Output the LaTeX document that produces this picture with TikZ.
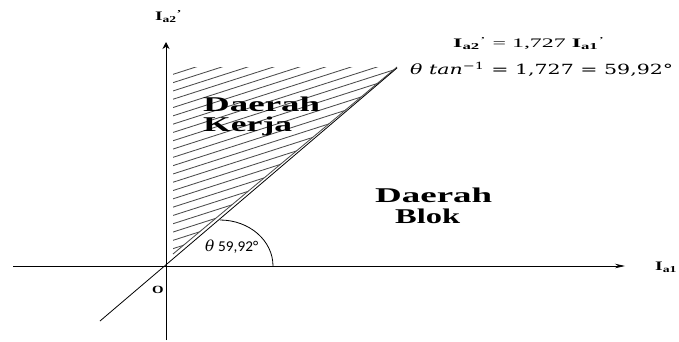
\documentclass[tikz,border=0pt]{standalone}
\usepackage{fontspec}
\setmainfont{Liberation Serif}
\newfontfamily\calib{Carlito}
\newfontfamily\cambr{DejaVu Serif}
\usetikzlibrary{arrows.meta}
\begin{document}
\begin{tikzpicture}[x=1pt,y=-1pt,
  axis/.style={line width=0.8pt},
  hatchline/.style={draw=black!70,line width=0.85pt},
  lbl/.style={inner sep=0pt,anchor=base west}]
\useasboundingbox (0,0) rectangle (679,341);
% key points
\coordinate (O) at (166,266);
\coordinate (ytop) at (166,42);
\coordinate (ybot) at (166,340);
\coordinate (xl) at (13,266);
\coordinate (xr) at (625,266);
\coordinate (dl) at (100,321);
\coordinate (dr) at (397,68);
\coordinate (h1) at (173,67);
\coordinate (h2) at (397,67);
\coordinate (h3) at (173,254);
% hatching
\begin{scope}
  \clip (h1) -- (h2) -- (h3) -- cycle;
  \foreach \i in {0,...,26}
    \draw[hatchline] (170,{67+8.3*\i}) -- ++(240,-77);
\end{scope}
\draw[hatchline] (h2) -- (h3);
% axes
\draw[axis,-{Stealth[length=7pt,width=7pt]}] (ybot) -- (ytop);
\draw[axis,-{Stealth[length=10pt,width=4.5pt]}] (xl) -- (xr);
% diagonal
\draw[line width=0.8pt] (dl) -- (dr);
% angle arc
\draw[line width=0.8pt] (273,266) arc[start angle=0,end angle=-90,x radius=53,y radius=46];
% labels
\node[lbl] (ya) at (155,20.7) {\resizebox{27pt}{\height}{\fontsize{13}{15}\selectfont\textbf{I}\textsubscript{\textbf{a2}}\textsuperscript{\textbf{'}}}};
\node[lbl] (xa) at (655,270.5) {\resizebox{22pt}{\height}{\fontsize{13}{15}\selectfont\textbf{I}\textsubscript{\textbf{a1}}}};
\node[lbl] (o) at (152,293.5) {\resizebox{11.5pt}{\height}{\fontsize{11}{13}\selectfont\textbf{O}}};
\node[lbl] (eq1) at (453,47.7) {\resizebox{152pt}{\height}{\fontsize{13}{15}\selectfont\textbf{I}\textsubscript{\textbf{a2}}\textsuperscript{'} = 1,727 \textbf{I}\textsubscript{\textbf{a1}}\textsuperscript{'}}};
\node[lbl] (eq2) at (410,74.3) {\resizebox{263pt}{\height}{\fontsize{14}{17}\selectfont\cambr\textit{θ tan}\textsuperscript{−1} = 1,727 = 59,92°}};
\node[lbl] (th) at (205,251.7) {\resizebox{53pt}{\height}{\fontsize{15}{17}\selectfont{\cambr\textit{θ}}\ {\calib 59,92°}}};
\node[lbl] (dk1) at (203,111.7) {\resizebox{117pt}{\height}{\fontsize{21}{24}\selectfont\bfseries Daerah}};
\node[lbl] (dk2) at (203,131.7) {\resizebox{89pt}{\height}{\fontsize{21}{24}\selectfont\bfseries Kerja}};
\node[lbl] (db1) at (375,202.7) {\resizebox{117pt}{\height}{\fontsize{21}{24}\selectfont\bfseries Daerah}};
\node[lbl] (db2) at (395,223.3) {\resizebox{65pt}{\height}{\fontsize{21}{24}\selectfont\bfseries Blok}};
\end{tikzpicture}
\end{document}
